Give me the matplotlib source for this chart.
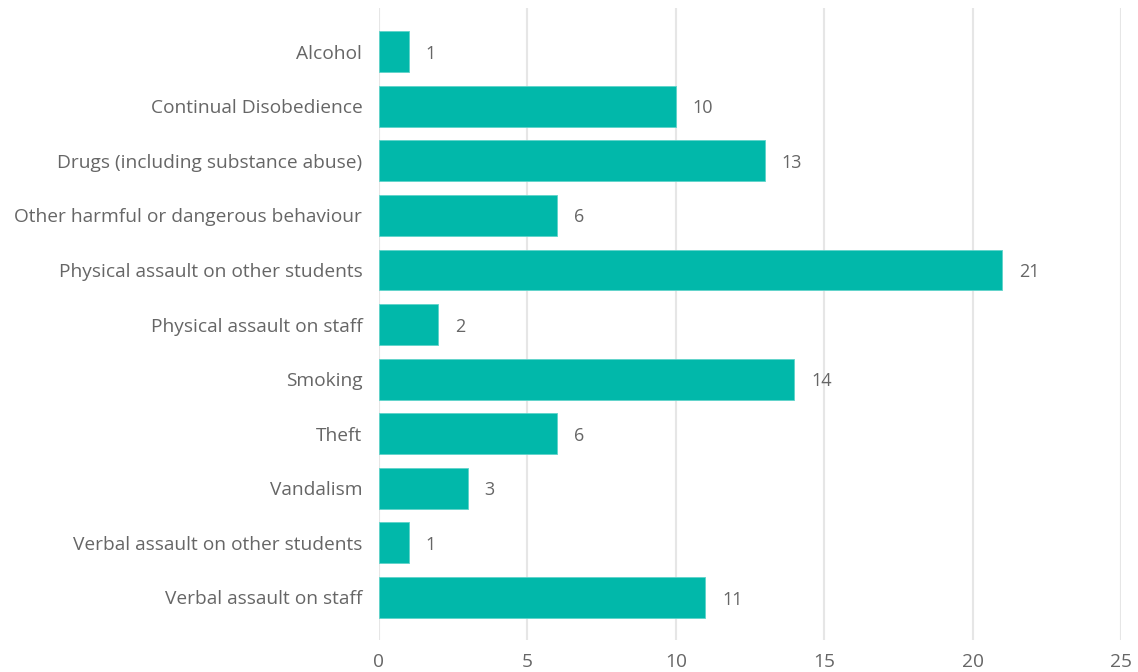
import matplotlib
matplotlib.use("Agg")
from matplotlib import pyplot as plt

categories = [
    "Alcohol",
    "Continual Disobedience",
    "Drugs (including substance abuse)",
    "Other harmful or dangerous behaviour",
    "Physical assault on other students",
    "Physical assault on staff",
    "Smoking",
    "Theft",
    "Vandalism",
    "Verbal assault on other students",
    "Verbal assault on staff",
]
counts = [1, 10, 13, 6, 21, 2, 14, 6, 3, 1, 11]
x_ticks = [0, 5, 10, 15, 20, 25]

BAR_COLOR = "#01B8AA"
TEXT_COLOR = "#666666"
GRID_COLOR = "#E6E6E6"

plt.rcParams["font.family"] = ["Open Sans", "DejaVu Sans"]

fig = plt.figure(figsize=(11.38, 6.72), dpi=100)
ax = fig.add_axes((0.333, 0.0476, 0.652, 0.9405))

pos = list(range(len(categories)))
ax.barh(pos, counts, height=0.75, color=BAR_COLOR, edgecolor="#5fd3ca",
        linewidth=0.6, zorder=3)

# value labels just past the end of each bar
for y, v in zip(pos, counts):
    ax.annotate(str(v), (v, y), xytext=(12, -1.5), textcoords="offset points",
                ha="left", va="center", fontsize=13, color=TEXT_COLOR)

ax.set_xlim(0, 25)
ax.set_ylim(10.78, -0.80)
ax.set_xticks(x_ticks)
ax.set_yticks(pos)
ax.set_yticklabels(categories)
ax.tick_params(axis="both", length=0, colors=TEXT_COLOR, labelsize=13.8)
ax.tick_params(axis="x", pad=9)
ax.tick_params(axis="y", pad=12)
ax.grid(axis="x", color=GRID_COLOR, linewidth=1.5, zorder=0)
for s in ax.spines.values():
    s.set_visible(False)

fig.savefig("out.png", dpi=100)
